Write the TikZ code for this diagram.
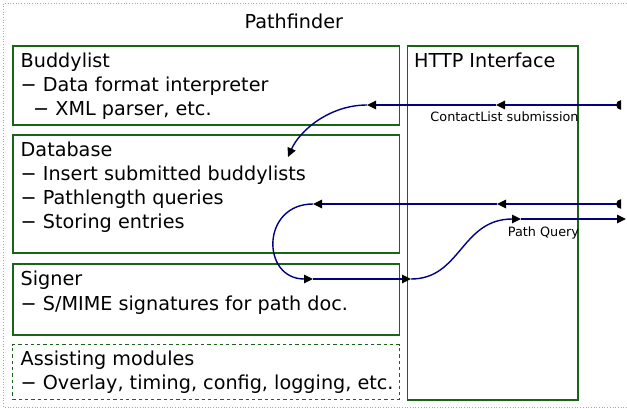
\documentclass[tikz,border=0pt]{standalone}
\usepackage{fontspec}
\setmainfont{DejaVu Sans}
\usetikzlibrary{arrows.meta}
\definecolor{boxgreen}{RGB}{25,100,25}
\definecolor{linkblue}{RGB}{0,0,128}
\begin{document}
\begin{tikzpicture}[x=1pt,y=-1pt,
  gbox/.style={draw=boxgreen, line width=1.8pt, rectangle, inner sep=0pt, anchor=north west},
  dbox/.style={draw=boxgreen, line width=1pt, dash pattern=on 3.3pt off 3pt, rectangle, inner sep=0pt, anchor=north west},
  txt/.style={inner sep=0pt, anchor=base west, font=\fontsize{19.2}{24}\selectfont},
  small/.style={inner sep=0pt, font=\fontsize{12.8}{15}\selectfont},
  link/.style={draw=linkblue, line width=1.4pt, -{Triangle[length=9pt,width=8.5pt,color=black]}},
  startmark/.style={fill=black},
]
\useasboundingbox (0,0) rectangle (627,408);
\draw[gray!70, line width=0.7pt, dotted] (3.5,3.5) rectangle (650,407);

\node[inner sep=0pt, anchor=base, font=\fontsize{19.2}{24}\selectfont] (title) at (293.8,28) {Pathfinder};

\node[gbox, minimum width=386.5pt, minimum height=79pt] (buddy) at (12,45) {};
\node[gbox, minimum width=386.5pt, minimum height=118pt] (db) at (12,134) {};
\node[gbox, minimum width=386.5pt, minimum height=71pt] (signer) at (12,263) {};
\node[dbox, minimum width=386.5pt, minimum height=55pt] (assist) at (12,344) {};
\node[gbox, minimum width=170.5pt, minimum height=354pt] (http) at (406.5,45) {};

\node[txt] (b1) at (20.5,67) {Buddylist};
\node[txt] (b2) at (20.5,91) {− Data format interpreter};
\node[txt] (b3) at (33,115) {− XML parser, etc.};

\node[txt] (d1) at (20.5,156) {Database};
\node[txt] (d2) at (20.5,180) {− Insert submitted buddylists};
\node[txt] (d3) at (20.5,204) {− Pathlength queries};
\node[txt] (d4) at (20.5,228) {− Storing entries};

\node[txt] (s1) at (20.5,285) {Signer};
\node[txt] (s2) at (20.5,310) {− S/MIME signatures for path doc.};

\node[txt] (a1) at (20.5,365) {Assisting modules};
\node[txt] (a2) at (20.5,389) {− Overlay, timing, config, logging, etc.};

\node[txt] (h1) at (414,67) {HTTP Interface};

% ContactList submission
\coordinate (c0) at (620,105);
\coordinate (c1) at (496,105);
\coordinate (c2) at (367,105);
\coordinate (c3) at (288,157);
\draw[link] (c0) -- (c1);
\draw[link] (c1) -- (c2);
\draw[link] (c2) .. controls (330,105) and (300,130) .. (c3);
\begin{scope}
  \clip (610,95) rectangle (621,115);
  \fill[startmark] (621,105) circle[radius=4.8pt];
\end{scope}
\node[small] (lab1) at (504.5,117) {ContactList submission};

% Path query
\coordinate (p0) at (620,204);
\coordinate (p1) at (497,204);
\coordinate (p2) at (313,204);
\coordinate (p3) at (313,279);
\coordinate (p4) at (411,279);
\coordinate (p5) at (521,219);
\coordinate (p6) at (626,219);
\draw[link] (p0) -- (p1);
\draw[link] (p1) -- (p2);
\draw[link] (p2) .. controls (261,204) and (261,279) .. (p3);
\draw[link] (p3) -- (p4);
\draw[link] (p4) .. controls (461,279) and (461,219) .. (p5);
\draw[link] (p5) -- (p6);
\begin{scope}
  \clip (610,194) rectangle (621,214);
  \fill[startmark] (621,204) circle[radius=4.8pt];
\end{scope}
\node[small] (lab2) at (543.5,233) {Path Query};
\end{tikzpicture}
\end{document}
